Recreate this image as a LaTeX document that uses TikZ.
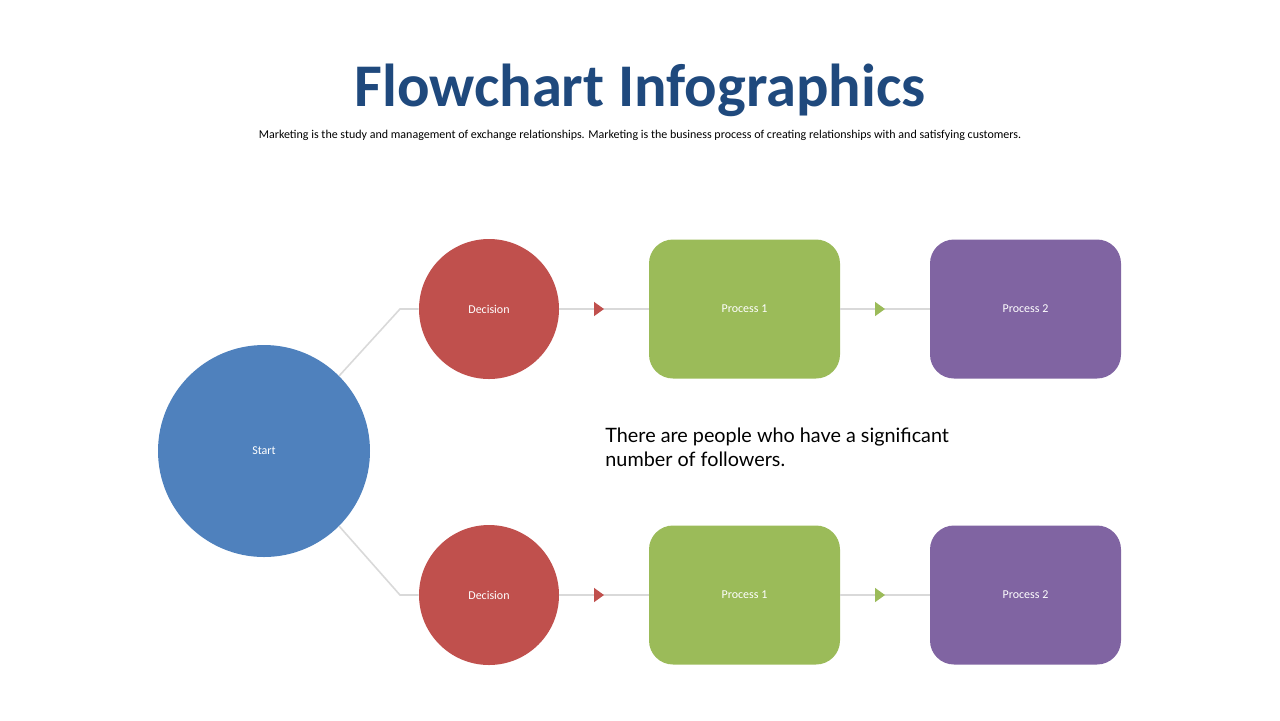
\documentclass[tikz,border=0pt]{standalone}
\usepackage{fontspec}
\setmainfont{Carlito}
\newfontfamily\bodyfont{Lato}
\usetikzlibrary{positioning,arrows.meta,decorations.markings,calc}
\definecolor{titleblue}{RGB}{31,73,125}
\definecolor{startblue}{RGB}{79,129,189}
\definecolor{decred}{RGB}{192,80,77}
\definecolor{procgreen}{RGB}{155,187,89}
\definecolor{procpurple}{RGB}{128,100,162}
\definecolor{linegray}{RGB}{217,217,217}
\tikzset{
    lbl/.style={text=white, font=\fontsize{6}{7}\selectfont},
    circ/.style={circle, lbl, inner sep=0pt},
    proc/.style={rectangle, rounded corners=12pt, lbl, minimum width=95.5pt, minimum height=69.5pt},
    link/.style={draw=linegray, line width=0.8pt},
    tipped/.style={link, postaction={decorate}, decoration={markings,
        mark=at position 0.5 with {\arrow[#1]{Triangle[length=5pt,width=7pt]}}}}
}
\begin{document}
\begin{tikzpicture}[x=0.5pt, y=-0.5pt]
                        \useasboundingbox (0,0) rectangle (1280,720);
                        \node[text=titleblue, font=\fontsize{30.3}{34}\bfseries\selectfont] (title) at (640,90) {Flowchart Infographics};
                        \node[font=\fontsize{6}{7}\selectfont] (sub) at (640,135) {Marketing is the study and management of exchange relationships. Marketing is the business process of creating relationships with and satisfying customers.};

                        \node[circ, fill=startblue, minimum size=106pt] (start) at (264,451) {Start};
                        \node[circ, fill=decred, minimum size=70pt] (d1) at (489,309) {Decision};
                        \node[circ, fill=decred, minimum size=70pt] (d2) at (489,595) {Decision};
                        \node[proc, fill=procgreen] (p1a) at (744.5,309) {Process 1};
                        \node[proc, fill=procgreen] (p1b) at (744.5,595) {Process 1};
                        \node[proc, fill=procpurple] (p2a) at (1025.5,309) {Process 2};
                        \node[proc, fill=procpurple] (p2b) at (1025.5,595) {Process 2};
                        \coordinate (k1) at (400,309);
                        \coordinate (k2) at (400,595);

                        \node[anchor=north west, align=left, font=\bodyfont\fontsize{9.9}{12}\selectfont, inner sep=0pt] (note) at (605,428) {There are people who have a significant\\number of followers.};

                        \draw[link] (start.45) -- (k1) -- (d1.west);
                        \draw[link] (start.-45) -- (k2) -- (d2.west);
                        \draw[tipped=decred] (d1.east) -- (p1a.west);
                        \draw[tipped=decred] (d2.east) -- (p1b.west);
                        \draw[tipped=procgreen] (p1a.east) -- (p2a.west);
                        \draw[tipped=procgreen] (p1b.east) -- (p2b.west);
                    \end{tikzpicture}
\end{document}
